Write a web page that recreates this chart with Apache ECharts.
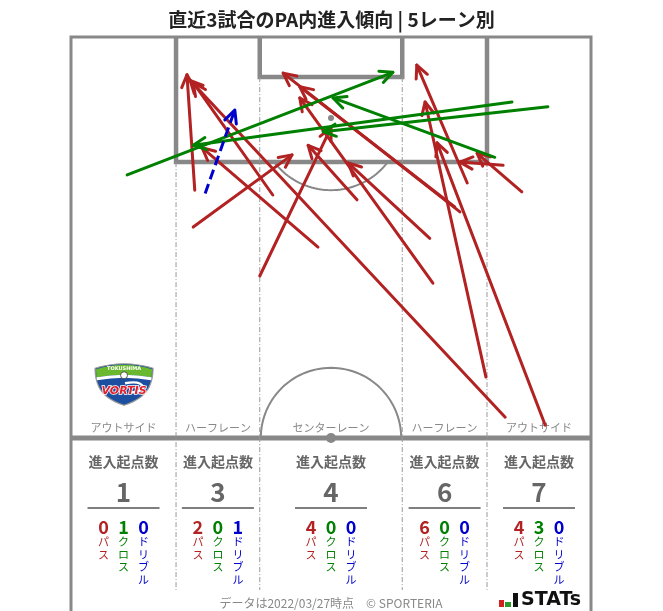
<!DOCTYPE html>
<html><head><meta charset="utf-8">
<script src="https://cdn.jsdelivr.net/npm/echarts@6/dist/echarts.min.js"></script>
<style>html,body{margin:0;padding:0;background:#fff}#c{width:663px;height:611px}</style>
</head><body><div id="c"></div>
<script>
// ---- data (x: 0-100 across pitch width, y: 0-50 distance from goal line toward halfway) ----
const laneNames = ['アウトサイド','ハーフレーン','センターレーン','ハーフレーン','アウトサイド'];
const laneEdges = [0, 20.2, 36.3, 63.7, 80.0, 100];
const entryTotals = [1, 3, 4, 6, 7];
const passCounts = [0, 2, 4, 6, 4];
const crossCounts = [1, 0, 0, 0, 3];
const dribbleCounts = [0, 1, 0, 0, 0];
const passes = [
  [23.8,19.1,22.3,4.7],
  [23.5,23.7,42.5,14.7],
  [36.3,29.8,50.0,11.3],
  [38.8,19.7,23.5,5.7],
  [47.5,26.2,25.2,13.8],
  [55.0,20.3,45.6,13.5],
  [69.0,25.1,53.3,15.7],
  [74.8,21.8,40.8,4.5],
  [73.8,21.2,44.0,6.2],
  [69.6,30.7,44.0,7.6],
  [76.2,18.2,66.5,3.5],
  [79.8,42.4,68.1,8.1],
  [91.2,48.4,70.4,13.2],
  [83.5,47.4,22.9,5.4],
  [86.7,19.3,78.1,14.5],
  [83.1,16.0,74.8,15.6]
];
const crosses = [
  [10.8,17.2,61.9,4.4],
  [84.8,8.1,23.5,13.5],
  [91.7,8.7,48.5,11.8],
  [81.5,15.0,50.4,7.6]
];
const dribbles = [
  [25.8,19.5,31.5,9.1]
];
const titleText = '直近3試合のPA内進入傾向 | 5レーン別';
const footerText = 'データは2022/03/27時点　© SPORTERIA';

// ---- pitch geometry (same units) ----
const Y_MAX = 71.57, BOTTOM = 68.95;
function ellipseArc(cx, cy, rx, ry, a0, a1, n) {
  const pts = [];
  for (let i = 0; i <= n; i++) {
    const a = (a0 + (a1 - a0) * i / n) * Math.PI / 180;
    pts.push([cx + rx * Math.cos(a), cy + ry * Math.sin(a)]);
  }
  return pts;
}
const pitchLines = [
  {pts: [[0,Y_MAX],[0,0],[100,0],[100,Y_MAX]], w: 3},
  {pts: [[0,50],[100,50]], w: 5},
  {pts: [[20.2,0],[20.2,15.6],[80,15.6],[80,0]], w: 4.5},
  {pts: [[36.3,0],[36.3,5.0],[63.7,5.0],[63.7,0]], w: 4.5},
  {pts: ellipseArc(50, 10.1, 13.8, 9.0, 37.7, 142.3, 40), w: 2},
  {pts: ellipseArc(50, 50, 13.5, 8.75, 180, 360, 60), w: 2},
  {pts: [[20.2,15.6],[20.2,BOTTOM]], w: 1, dash: true},
  {pts: [[36.3,5.0],[36.3,BOTTOM]], w: 1, dash: true},
  {pts: [[63.7,5.0],[63.7,BOTTOM]], w: 1, dash: true},
  {pts: [[80.0,15.6],[80.0,BOTTOM]], w: 1, dash: true}
];
const emblemPos = [[10.2, 43.3]];
const FONT = '"Noto Sans CJK JP", "Noto Sans", sans-serif';
const RED = '#b22222', GREEN = '#008000', BLUE = '#0000cd';

function arrowSeries(name, data, color, dash) {
  return {
    type: 'custom', name: name, coordinateSystem: 'cartesian2d', data: data,
    encode: {x: [0, 2], y: [1, 3]}, clip: false, z: 5,
    renderItem: function (params, api) {
      const p0 = api.coord([api.value(0), api.value(1)]);
      const p1 = api.coord([api.value(2), api.value(3)]);
      const ang = Math.atan2(p1[1] - p0[1], p1[0] - p0[0]);
      const L = 14, W = 0.45;
      const a = [p1[0] - L * Math.cos(ang - W), p1[1] - L * Math.sin(ang - W)];
      const b = [p1[0] - L * Math.cos(ang + W), p1[1] - L * Math.sin(ang + W)];
      return {type: 'group', children: [
        {type: 'line', shape: {x1: p0[0], y1: p0[1], x2: p1[0], y2: p1[1]},
         style: {stroke: color, lineWidth: 3, lineDash: dash ? [10, 5] : null, lineCap: dash ? 'butt' : 'round'}},
        {type: 'polyline', shape: {points: [a, p1, b]},
         style: {stroke: color, fill: null, lineWidth: 3, lineJoin: 'round', lineCap: 'round'}}
      ]};
    }
  };
}

const chart = echarts.init(document.getElementById('c'));
chart.setOption({
  animation: false,
  title: {text: titleText, left: 'center', top: 5,
    textStyle: {fontSize: 19, fontWeight: 'bold', color: '#222', fontFamily: FONT}},
  grid: {left: 71, right: 72, top: 37, bottom: 0},
  xAxis: {type: 'value', min: 0, max: 100, show: false},
  yAxis: {type: 'value', min: 0, max: Y_MAX, inverse: true, show: false},
  series: [
    {
      type: 'custom', name: 'pitch', coordinateSystem: 'cartesian2d', silent: true, clip: false,
      data: pitchLines.map((d, i) => [i, i]), z: 1,
      renderItem: function (params, api) {
        const d = pitchLines[params.dataIndex];
        const pts = d.pts.map(p => api.coord(p));
        return {type: 'polyline', shape: {points: pts},
          style: {stroke: d.dash ? '#999' : '#888', lineWidth: d.w, fill: null,
            lineDash: d.dash ? [5, 2, 1, 2] : null, lineJoin: 'miter'}};
      }
    },
    {
      type: 'custom', name: 'spots', coordinateSystem: 'cartesian2d', silent: true, clip: false, z: 1,
      data: [[50, 50, 5], [50, 10.1, 3]],
      renderItem: function (params, api) {
        const p = api.coord([api.value(0), api.value(1)]);
        return {type: 'circle', shape: {cx: p[0], cy: p[1], r: api.value(2)}, style: {fill: '#888'}};
      }
    },
    {
      type: 'custom', name: 'emblem', coordinateSystem: 'cartesian2d', silent: true, clip: false, z: 2,
      data: emblemPos,
      renderItem: function (params, api) {
        const c = api.coord([api.value(0), api.value(1)]);
        return {type: 'group', x: c[0] - 29, y: c[1] - 21, children: [
          {type: 'path', shape: {pathData: 'M0 5 Q29 -4 58 5 Q58 16 54 24 Q48 36 29 42 Q10 36 4 24 Q0 16 0 5 Z'}, style: {fill: '#1d4fa0', stroke: '#9a9a9a', lineWidth: 1.2}},
          {type: 'path', shape: {pathData: 'M1 6 Q29 -3 57 6 L56.6 14 Q29 9 1.4 14 Z'}, style: {fill: '#6ab82e'}},
          {type: 'path', shape: {pathData: 'M1.4 14 Q29 9 56.6 14 L56 17 Q29 12 2 17 Z'}, style: {fill: '#fff'}},
          {type: 'text', x: 29, y: 5.5, style: {text: 'TOKUSHIMA', font: 'bold 5px "DejaVu Sans", sans-serif', fill: '#fff',
            textAlign: 'center', textVerticalAlign: 'middle', align: 'center', verticalAlign: 'middle'}},
          {type: 'circle', shape: {cx: 29, cy: 12, r: 3.5}, style: {fill: '#fff', stroke: '#333', lineWidth: 0.8}},
          {type: 'path', shape: {pathData: 'M30 20 Q46 17 48 24 Q44 30 34 29'}, style: {stroke: '#fff', lineWidth: 2.5, fill: null}},
          {type: 'text', x: 29, y: 28, style: {text: 'VORTIS', font: 'italic bold 11px "DejaVu Sans", sans-serif', fill: '#e0202a',
            stroke: '#fff', lineWidth: 1.5, textAlign: 'center', textVerticalAlign: 'middle', align: 'center', verticalAlign: 'middle'}}
        ]};
      }
    },
    {
      type: 'custom', name: 'lanes', coordinateSystem: 'cartesian2d', silent: true, clip: false, z: 3,
      data: laneNames.map((n, i) => [(laneEdges[i] + laneEdges[i + 1]) / 2, 50]),
      renderItem: function (params, api) {
        const i = params.dataIndex;
        const c = api.coord([api.value(0), api.value(1)]);
        const x = c[0], y = c[1];
        const t = (txt, dx, dy, font, fill, va, lh) => ({type: 'text', x: x + dx, y: y + dy,
          style: {text: txt, font: font, fill: fill, textAlign: 'center', textVerticalAlign: va || 'middle',
            align: 'center', verticalAlign: va || 'middle', lineHeight: lh || undefined}});
        const vert = s => s.split('').join('\n');
        return {type: 'group', children: [
          t(laneNames[i], 0, -10, '11px ' + FONT, '#888'),
          t('進入起点数', 0, 24, 'bold 14px ' + FONT, '#666'),
          t(String(entryTotals[i]), 0, 54, 'bold 26px ' + FONT, '#666'),
          {type: 'line', shape: {x1: x - 36, y1: y + 70, x2: x + 36, y2: y + 70}, style: {stroke: '#555', lineWidth: 1.5}},
          t(String(passCounts[i]), -20, 89, 'bold 18px ' + FONT, RED),
          t(String(crossCounts[i]), 0, 89, 'bold 18px ' + FONT, GREEN),
          t(String(dribbleCounts[i]), 20, 89, 'bold 18px ' + FONT, BLUE),
          t(vert('パス'), -20, 98, '11px ' + FONT, RED, 'top', 12.5),
          t(vert('クロス'), 0, 98, '11px ' + FONT, GREEN, 'top', 12.5),
          t(vert('ドリブル'), 20, 98, '11px ' + FONT, BLUE, 'top', 12.5)
        ]};
      }
    },
    arrowSeries('パス', passes, RED, false),
    arrowSeries('クロス', crosses, GREEN, false),
    arrowSeries('ドリブル', dribbles, BLUE, true)
  ],
  graphic: [
    {type: 'text', x: 331, y: 603, style: {text: footerText, font: '12px ' + FONT, fill: '#888',
      textAlign: 'center', textVerticalAlign: 'middle', align: 'center', verticalAlign: 'middle'}},
    {type: 'group', x: 499, y: 592, children: [
      {type: 'rect', shape: {x: 0, y: 8, width: 5, height: 7}, style: {fill: '#d42020'}},
      {type: 'rect', shape: {x: 6, y: 10, width: 6, height: 5}, style: {fill: '#2a9a2a'}},
      {type: 'rect', shape: {x: 14, y: 1, width: 5, height: 14}, style: {fill: '#111'}},
      {type: 'text', x: 22, y: 8, style: {text: 'STATs', font: 'bold 19px "DejaVu Sans", sans-serif', fill: '#111',
        textAlign: 'left', textVerticalAlign: 'middle', align: 'left', verticalAlign: 'middle'}}
    ]}
  ]
});
</script></body></html>
